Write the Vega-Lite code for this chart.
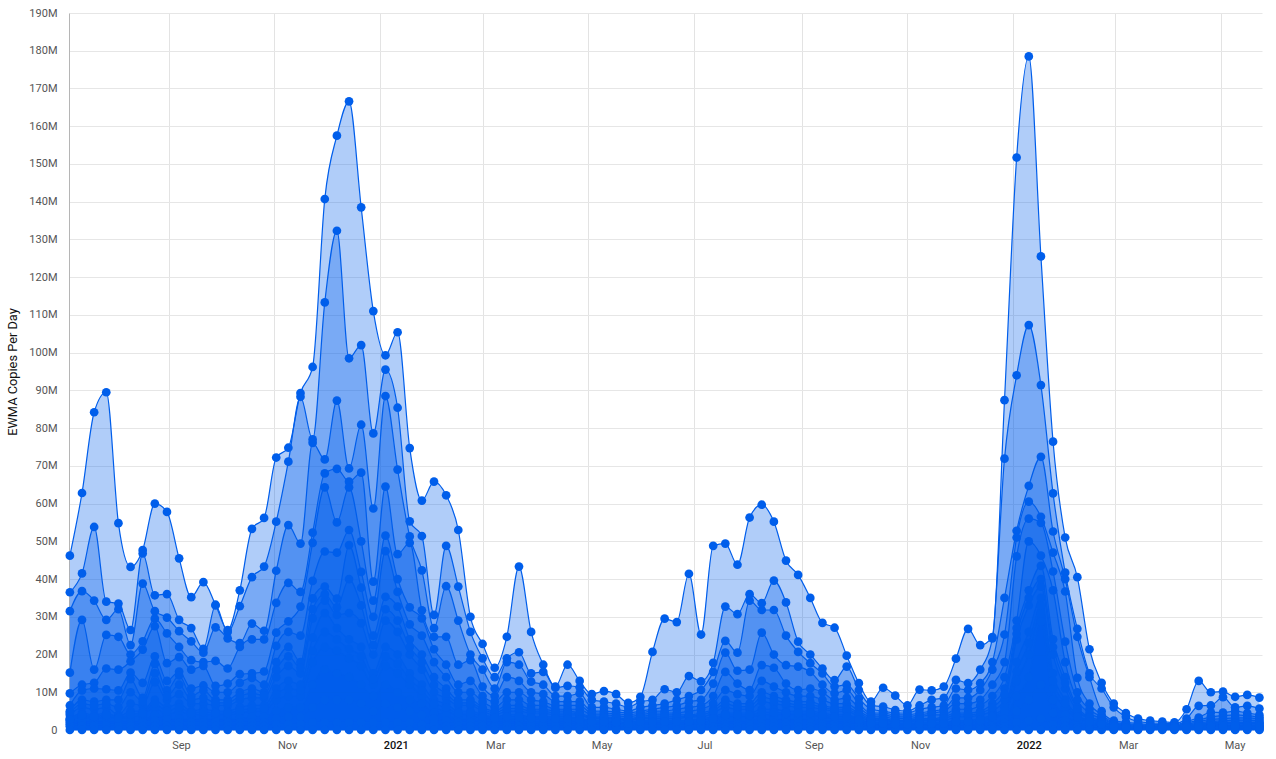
{"$schema":"https://vega.github.io/schema/vega-lite/v6.json","width":1193,"height":717,"autosize":{"type":"none"},"padding":{"left":69,"top":13,"right":14,"bottom":29},"background":"white","config":{"view":{"stroke":null},"font":"Roboto"},
"data":{"values":[
{"d":"2020-07-06","s1":46.2,"s2":36.5,"s3":31.5,"s4":15.2,"s5":9.7,"s6":6.5,"s7":5,"s8":4,"s9":3,"s10":2.5,"s11":2,"s12":1.5,"s13":1,"s14":0,"s15":4.5,"s16":2.8},
{"d":"2020-07-13","s1":62.8,"s2":41.5,"s3":36.8,"s4":29.2,"s5":12,"s6":10.5,"s7":8,"s8":6,"s9":4.5,"s10":3.5,"s11":2.5,"s12":1.5,"s13":1,"s14":0,"s15":7,"s16":4},
{"d":"2020-07-20","s1":84.2,"s2":53.8,"s3":34.3,"s4":16,"s5":12.5,"s6":11,"s7":7.5,"s8":5.5,"s9":4,"s10":3,"s11":2.5,"s12":1.5,"s13":1,"s14":0,"s15":6.5,"s16":3.5},
{"d":"2020-07-27","s1":89.5,"s2":34,"s3":29.2,"s4":25.2,"s5":16.3,"s6":10.8,"s7":8,"s8":6,"s9":4.5,"s10":3.5,"s11":2.5,"s12":1.5,"s13":1,"s14":0,"s15":7,"s16":4},
{"d":"2020-08-03","s1":54.8,"s2":33.5,"s3":32,"s4":24.7,"s5":16,"s6":10.5,"s7":8,"s8":4,"s9":3.5,"s10":3,"s11":2.5,"s12":1.5,"s13":1,"s14":0,"s15":6,"s16":3.2},
{"d":"2020-08-10","s1":43.2,"s2":26.5,"s3":22.5,"s4":20,"s5":18.2,"s6":15.2,"s7":13.5,"s8":7,"s9":5,"s10":3.5,"s11":2.5,"s12":1.5,"s13":1,"s14":0,"s15":10,"s16":4.2},
{"d":"2020-08-17","s1":47.7,"s2":46.8,"s3":38.8,"s4":23.5,"s5":21.3,"s6":12.5,"s7":8.5,"s8":6.5,"s9":5,"s10":4,"s11":2.5,"s12":2,"s13":1,"s14":0,"s15":7.5,"s16":4.5},
{"d":"2020-08-24","s1":60,"s2":35.7,"s3":31.5,"s4":29.5,"s5":27.5,"s6":19.5,"s7":17.5,"s8":12.7,"s9":8,"s10":6,"s11":4,"s12":2.5,"s13":1,"s14":0,"s15":15,"s16":7},
{"d":"2020-08-31","s1":57.8,"s2":36,"s3":29.8,"s4":25.6,"s5":17.7,"s6":13,"s7":10.5,"s8":8,"s9":6,"s10":4,"s11":3,"s12":2,"s13":1,"s14":0,"s15":9,"s16":5},
{"d":"2020-09-07","s1":45.5,"s2":29.2,"s3":26.2,"s4":22,"s5":19.3,"s6":15.5,"s7":14.5,"s8":9.5,"s9":7,"s10":5,"s11":3,"s12":2,"s13":1,"s14":0,"s15":12,"s16":6},
{"d":"2020-09-14","s1":35.2,"s2":27,"s3":23.5,"s4":18.5,"s5":16,"s6":11,"s7":9,"s8":7,"s9":5,"s10":4,"s11":3,"s12":2,"s13":1,"s14":0,"s15":8,"s16":4.5},
{"d":"2020-09-21","s1":39.2,"s2":21.5,"s3":20.5,"s4":18,"s5":17,"s6":11.8,"s7":10.5,"s8":7,"s9":5.5,"s10":4,"s11":3,"s12":2,"s13":1,"s14":0,"s15":8.5,"s16":4.8},
{"d":"2020-09-28","s1":33.2,"s2":33,"s3":27.2,"s4":18.3,"s5":11.7,"s6":10,"s7":8,"s8":6.5,"s9":5,"s10":4,"s11":3,"s12":2,"s13":1,"s14":0,"s15":7.2,"s16":4.5},
{"d":"2020-10-05","s1":26.5,"s2":26,"s3":24.3,"s4":16.3,"s5":12.3,"s6":10,"s7":8,"s8":6.5,"s9":5,"s10":4,"s11":3,"s12":2,"s13":1,"s14":0,"s15":7.2,"s16":4.5},
{"d":"2020-10-12","s1":37,"s2":32.8,"s3":23,"s4":22,"s5":14.8,"s6":12.5,"s7":10,"s8":8,"s9":6,"s10":4.5,"s11":3,"s12":2,"s13":1,"s14":0,"s15":9,"s16":5.2},
{"d":"2020-10-19","s1":53.3,"s2":40.5,"s3":28.2,"s4":24,"s5":15,"s6":13.8,"s7":11,"s8":8.5,"s9":6.5,"s10":5,"s11":3.5,"s12":2,"s13":1,"s14":0,"s15":9.7,"s16":5.7},
{"d":"2020-10-26","s1":56.2,"s2":43.3,"s3":26.3,"s4":24,"s5":15.5,"s6":12,"s7":10,"s8":8.5,"s9":6.5,"s10":5,"s11":3.5,"s12":2,"s13":1,"s14":0,"s15":9.2,"s16":5.7},
{"d":"2020-11-02","s1":72.2,"s2":55.2,"s3":42.2,"s4":33.7,"s5":25.8,"s6":22.3,"s7":18,"s8":14,"s9":11,"s10":8,"s11":5,"s12":3,"s13":1.5,"s14":0,"s15":16,"s16":9.5},
{"d":"2020-11-09","s1":74.8,"s2":71.1,"s3":54.3,"s4":39,"s5":28.8,"s6":26,"s7":22,"s8":17,"s9":13,"s10":9,"s11":6,"s12":3.5,"s13":1.5,"s14":0,"s15":19.5,"s16":11},
{"d":"2020-11-16","s1":89.3,"s2":88.3,"s3":49.4,"s4":36.6,"s5":32.7,"s6":25,"s7":18,"s8":15,"s9":12,"s10":9,"s11":6,"s12":3.5,"s13":1.5,"s14":0,"s15":16.5,"s16":10.5},
{"d":"2020-11-23","s1":96.2,"s2":77,"s3":76.1,"s4":52.3,"s5":49.6,"s6":39.5,"s7":34.9,"s8":29.6,"s9":24.5,"s10":18,"s11":12,"s12":6,"s13":2,"s14":0,"s15":32,"s16":21},
{"d":"2020-11-30","s1":140.7,"s2":113.3,"s3":71.7,"s4":68,"s5":64.3,"s6":47.3,"s7":38,"s8":34.3,"s9":31,"s10":22,"s11":16,"s12":8,"s13":2,"s14":0,"s15":36,"s16":26},
{"d":"2020-12-07","s1":157.5,"s2":132.3,"s3":87.3,"s4":69.2,"s5":55,"s6":47,"s7":34.8,"s8":30.5,"s9":27,"s10":21,"s11":15,"s12":8,"s13":2,"s14":0,"s15":32.5,"s16":24},
{"d":"2020-12-14","s1":166.6,"s2":98.5,"s3":69.3,"s4":65.8,"s5":64.3,"s6":53,"s7":49,"s8":31,"s9":24,"s10":19,"s11":14,"s12":8,"s13":2,"s14":0,"s15":40,"s16":21.5},
{"d":"2020-12-21","s1":138.5,"s2":102,"s3":80.9,"s4":68.2,"s5":50,"s6":41.9,"s7":37.7,"s8":28.3,"s9":22,"s10":17,"s11":12,"s12":7,"s13":2,"s14":0,"s15":33,"s16":19.5},
{"d":"2020-12-28","s1":111,"s2":78.6,"s3":58.7,"s4":39.3,"s5":34.3,"s6":30,"s7":25,"s8":20,"s9":15,"s10":12,"s11":9,"s12":5,"s13":2,"s14":0,"s15":22.5,"s16":13.5},
{"d":"2021-01-04","s1":99.3,"s2":95.5,"s3":88.5,"s4":64.5,"s5":51.5,"s6":47.4,"s7":35.3,"s8":29,"s9":22,"s10":17,"s11":12,"s12":7,"s13":2,"s14":0,"s15":32,"s16":19.5},
{"d":"2021-01-11","s1":105.4,"s2":85.4,"s3":69,"s4":46.6,"s5":40,"s6":36.6,"s7":32.7,"s8":26,"s9":20,"s10":15,"s11":10,"s12":6,"s13":2,"s14":0,"s15":29,"s16":17.5},
{"d":"2021-01-18","s1":74.7,"s2":55.3,"s3":51.3,"s4":49.6,"s5":32.5,"s6":28,"s7":24,"s8":20,"s9":15,"s10":12,"s11":8,"s12":5,"s13":2,"s14":0,"s15":22,"s16":13.5},
{"d":"2021-01-25","s1":60.8,"s2":51.4,"s3":42.3,"s4":31.7,"s5":29.6,"s6":25,"s7":20,"s8":16,"s9":12,"s10":9,"s11":7,"s12":4,"s13":1.5,"s14":0,"s15":18,"s16":10.5},
{"d":"2021-02-01","s1":65.8,"s2":30.5,"s3":27,"s4":24.7,"s5":21.4,"s6":18,"s7":14,"s8":10,"s9":8,"s10":6,"s11":4.5,"s12":3,"s13":1.5,"s14":0,"s15":12,"s16":7},
{"d":"2021-02-08","s1":62.2,"s2":48.8,"s3":38.1,"s4":24.7,"s5":17.3,"s6":14,"s7":11,"s8":8.5,"s9":7,"s10":5,"s11":4,"s12":2.5,"s13":1,"s14":0,"s15":9.7,"s16":6},
{"d":"2021-02-15","s1":53,"s2":38,"s3":29,"s4":17.3,"s5":12,"s6":10,"s7":8,"s8":6.5,"s9":5,"s10":4,"s11":3,"s12":2,"s13":1,"s14":0,"s15":7.2,"s16":4.5},
{"d":"2021-02-22","s1":30,"s2":26,"s3":20,"s4":18.5,"s5":13,"s6":10,"s7":8,"s8":6.5,"s9":5,"s10":4,"s11":3,"s12":2,"s13":1,"s14":0,"s15":7.2,"s16":4.5},
{"d":"2021-03-01","s1":22.8,"s2":19,"s3":16,"s4":11.5,"s5":9,"s6":7.5,"s7":6,"s8":5,"s9":4,"s10":3,"s11":2.5,"s12":2,"s13":1,"s14":0,"s15":5.5,"s16":3.5},
{"d":"2021-03-08","s1":16.5,"s2":14,"s3":11,"s4":9,"s5":7.5,"s6":6,"s7":5,"s8":4,"s9":3.5,"s10":3,"s11":2.5,"s12":1.5,"s13":1,"s14":0,"s15":4.5,"s16":3.2},
{"d":"2021-03-15","s1":24.7,"s2":19,"s3":18,"s4":14,"s5":10,"s6":8,"s7":6.5,"s8":5,"s9":4,"s10":3,"s11":2.5,"s12":1.5,"s13":1,"s14":0,"s15":5.7,"s16":3.5},
{"d":"2021-03-22","s1":43.3,"s2":20.6,"s3":17.3,"s4":13,"s5":10,"s6":8,"s7":6.5,"s8":5,"s9":4,"s10":3,"s11":2.5,"s12":1.5,"s13":1,"s14":0,"s15":5.7,"s16":3.5},
{"d":"2021-03-29","s1":26,"s2":15,"s3":12.8,"s4":10,"s5":8,"s6":6.5,"s7":5.5,"s8":4.5,"s9":3.5,"s10":3,"s11":2,"s12":1.5,"s13":1,"s14":0,"s15":5,"s16":3.2},
{"d":"2021-04-05","s1":17.3,"s2":15.4,"s3":12,"s4":9.5,"s5":7.5,"s6":6.5,"s7":5.5,"s8":4.5,"s9":3.5,"s10":3,"s11":2,"s12":1.5,"s13":1,"s14":0,"s15":5,"s16":3.2},
{"d":"2021-04-12","s1":11.5,"s2":11.2,"s3":9,"s4":7.5,"s5":6.5,"s6":5.5,"s7":5,"s8":4,"s9":3.5,"s10":2.5,"s11":2,"s12":1.5,"s13":1,"s14":0,"s15":4.5,"s16":3},
{"d":"2021-04-19","s1":17.3,"s2":11.7,"s3":9,"s4":7.5,"s5":6.5,"s6":5.5,"s7":5,"s8":4,"s9":3.5,"s10":2.5,"s11":2,"s12":1.5,"s13":1,"s14":0,"s15":4.5,"s16":3},
{"d":"2021-04-26","s1":13,"s2":11.3,"s3":9.7,"s4":7.5,"s5":6.5,"s6":5.5,"s7":4.5,"s8":4,"s9":3,"s10":2.5,"s11":2,"s12":1.5,"s13":1,"s14":0,"s15":4.2,"s16":2.8},
{"d":"2021-05-03","s1":9.5,"s2":8,"s3":6,"s4":5,"s5":4.5,"s6":4,"s7":3.5,"s8":3,"s9":2.5,"s10":2,"s11":1.5,"s12":1.2,"s13":0.8,"s14":0,"s15":3.2,"s16":2.2},
{"d":"2021-05-10","s1":10.3,"s2":7.5,"s3":6,"s4":5,"s5":4.5,"s6":4,"s7":3.5,"s8":3,"s9":2.5,"s10":2,"s11":1.5,"s12":1.2,"s13":0.8,"s14":0,"s15":3.2,"s16":2.2},
{"d":"2021-05-17","s1":9.5,"s2":7,"s3":5.5,"s4":4.8,"s5":4.3,"s6":3.8,"s7":3.3,"s8":2.8,"s9":2.3,"s10":1.9,"s11":1.5,"s12":1.2,"s13":0.8,"s14":0,"s15":3,"s16":2.1},
{"d":"2021-05-24","s1":7.2,"s2":6,"s3":5,"s4":4.5,"s5":4,"s6":3.5,"s7":3,"s8":2.5,"s9":2,"s10":1.7,"s11":1.4,"s12":1.1,"s13":0.8,"s14":0,"s15":2.7,"s16":1.8},
{"d":"2021-05-31","s1":8.8,"s2":7.5,"s3":6,"s4":5,"s5":4.5,"s6":4,"s7":3.5,"s8":3,"s9":2.5,"s10":2,"s11":1.5,"s12":1.2,"s13":0.8,"s14":0,"s15":3.2,"s16":2.2},
{"d":"2021-06-07","s1":20.7,"s2":8,"s3":6.5,"s4":5.5,"s5":5,"s6":4.5,"s7":4,"s8":3,"s9":2.5,"s10":2,"s11":1.5,"s12":1.2,"s13":0.8,"s14":0,"s15":3.5,"s16":2.2},
{"d":"2021-06-14","s1":29.5,"s2":10.8,"s3":7,"s4":6,"s5":5,"s6":4.5,"s7":4,"s8":3,"s9":2.5,"s10":2,"s11":1.5,"s12":1.2,"s13":0.8,"s14":0,"s15":3.5,"s16":2.2},
{"d":"2021-06-21","s1":28.6,"s2":10,"s3":8,"s4":6.5,"s5":5.5,"s6":4.5,"s7":4,"s8":3,"s9":2.5,"s10":2,"s11":1.5,"s12":1.2,"s13":0.8,"s14":0,"s15":3.5,"s16":2.2},
{"d":"2021-06-28","s1":41.4,"s2":14.3,"s3":9,"s4":7.5,"s5":6,"s6":5,"s7":4,"s8":3.5,"s9":2.5,"s10":2,"s11":1.5,"s12":1.2,"s13":0.8,"s14":0,"s15":3.7,"s16":2.2},
{"d":"2021-07-05","s1":25.3,"s2":12.9,"s3":10.6,"s4":8,"s5":6.5,"s6":5.5,"s7":4.5,"s8":3.5,"s9":3,"s10":2,"s11":1.5,"s12":1.2,"s13":0.8,"s14":0,"s15":4,"s16":2.5},
{"d":"2021-07-12","s1":48.8,"s2":17.8,"s3":15.4,"s4":12.3,"s5":9,"s6":7,"s7":5.5,"s8":4.5,"s9":3.5,"s10":2.5,"s11":2,"s12":1.4,"s13":0.8,"s14":0,"s15":5,"s16":3},
{"d":"2021-07-19","s1":49.4,"s2":32.7,"s3":23.6,"s4":20.5,"s5":15.4,"s6":10.6,"s7":8,"s8":6,"s9":4.5,"s10":3.5,"s11":2.5,"s12":1.5,"s13":0.8,"s14":0,"s15":7,"s16":4},
{"d":"2021-07-26","s1":43.8,"s2":30.7,"s3":20.5,"s4":15.7,"s5":12.3,"s6":9.5,"s7":7,"s8":5.5,"s9":4.5,"s10":3.5,"s11":2.5,"s12":1.5,"s13":0.8,"s14":0,"s15":6.2,"s16":4},
{"d":"2021-08-02","s1":56.3,"s2":36,"s3":34.3,"s4":16,"s5":10.6,"s6":9,"s7":7,"s8":5.5,"s9":4.5,"s10":3.5,"s11":2.5,"s12":1.5,"s13":0.8,"s14":0,"s15":6.2,"s16":4},
{"d":"2021-08-09","s1":59.7,"s2":33.6,"s3":31.8,"s4":25.8,"s5":17.2,"s6":13,"s7":10,"s8":7.5,"s9":5.5,"s10":4,"s11":3,"s12":1.8,"s13":0.8,"s14":0,"s15":8.7,"s16":4.7},
{"d":"2021-08-16","s1":55.2,"s2":39.6,"s3":31.8,"s4":20,"s5":16.5,"s6":11.5,"s7":9,"s8":7,"s9":5.5,"s10":4,"s11":3,"s12":1.8,"s13":0.8,"s14":0,"s15":8,"s16":4.7},
{"d":"2021-08-23","s1":44.9,"s2":33.8,"s3":25,"s4":17.2,"s5":12.3,"s6":10,"s7":8,"s8":6.5,"s9":5,"s10":4,"s11":3,"s12":1.8,"s13":0.8,"s14":0,"s15":7.2,"s16":4.5},
{"d":"2021-08-30","s1":41.1,"s2":23.4,"s3":20.7,"s4":16.8,"s5":10.6,"s6":9,"s7":7.5,"s8":6,"s9":5,"s10":4,"s11":3,"s12":1.8,"s13":0.8,"s14":0,"s15":6.7,"s16":4.5},
{"d":"2021-09-06","s1":35,"s2":20,"s3":17.7,"s4":15.4,"s5":11,"s6":9,"s7":7.5,"s8":6,"s9":5,"s10":4,"s11":3,"s12":1.8,"s13":0.8,"s14":0,"s15":6.7,"s16":4.5},
{"d":"2021-09-13","s1":28.4,"s2":16.3,"s3":15,"s4":12,"s5":10,"s6":8,"s7":6.5,"s8":5.5,"s9":4.5,"s10":3.5,"s11":2.5,"s12":1.5,"s13":0.8,"s14":0,"s15":6,"s16":4},
{"d":"2021-09-20","s1":27.1,"s2":13.2,"s3":11.5,"s4":9.7,"s5":8,"s6":7,"s7":6,"s8":5,"s9":4,"s10":3,"s11":2.5,"s12":1.5,"s13":0.8,"s14":0,"s15":5.5,"s16":3.5},
{"d":"2021-09-27","s1":19.7,"s2":16.8,"s3":12,"s4":10.6,"s5":8.5,"s6":7,"s7":6,"s8":5,"s9":4,"s10":3,"s11":2.5,"s12":1.5,"s13":0.8,"s14":0,"s15":5.5,"s16":3.5},
{"d":"2021-10-04","s1":12.4,"s2":10.6,"s3":8.4,"s4":7,"s5":6,"s6":5,"s7":4.5,"s8":3.5,"s9":3,"s10":2.5,"s11":2,"s12":1.5,"s13":0.8,"s14":0,"s15":4,"s16":2.7},
{"d":"2021-10-11","s1":7.5,"s2":6.5,"s3":5.5,"s4":4.5,"s5":4,"s6":3.5,"s7":3,"s8":2.5,"s9":2,"s10":1.5,"s11":1.2,"s12":1,"s13":0.6,"s14":0,"s15":2.7,"s16":1.7},
{"d":"2021-10-18","s1":11.2,"s2":6.2,"s3":5,"s4":4.5,"s5":4,"s6":3.5,"s7":3,"s8":2.5,"s9":2,"s10":1.5,"s11":1.2,"s12":1,"s13":0.6,"s14":0,"s15":2.7,"s16":1.7},
{"d":"2021-10-25","s1":9.1,"s2":5.3,"s3":4.5,"s4":4,"s5":3.5,"s6":3,"s7":2.5,"s8":2.2,"s9":1.8,"s10":1.5,"s11":1.2,"s12":1,"s13":0.6,"s14":0,"s15":2.3,"s16":1.6},
{"d":"2021-11-01","s1":6.5,"s2":5,"s3":4.5,"s4":4,"s5":3.5,"s6":3,"s7":2.5,"s8":2.2,"s9":1.8,"s10":1.5,"s11":1.2,"s12":1,"s13":0.6,"s14":0,"s15":2.3,"s16":1.6},
{"d":"2021-11-08","s1":10.7,"s2":6.5,"s3":5.5,"s4":4.5,"s5":4,"s6":3.5,"s7":3,"s8":2.5,"s9":2,"s10":1.5,"s11":1.2,"s12":1,"s13":0.6,"s14":0,"s15":2.7,"s16":1.7},
{"d":"2021-11-15","s1":10.5,"s2":8,"s3":6,"s4":5,"s5":4.5,"s6":4,"s7":3,"s8":2.5,"s9":2,"s10":1.5,"s11":1.2,"s12":1,"s13":0.6,"s14":0,"s15":2.7,"s16":1.7},
{"d":"2021-11-22","s1":11.5,"s2":8.5,"s3":6.5,"s4":5.5,"s5":5,"s6":4,"s7":3.5,"s8":2.5,"s9":2,"s10":1.5,"s11":1.2,"s12":1,"s13":0.6,"s14":0,"s15":3,"s16":1.7},
{"d":"2021-11-29","s1":18.9,"s2":13.3,"s3":11,"s4":8.5,"s5":7,"s6":5.5,"s7":4.5,"s8":3.5,"s9":2.5,"s10":2,"s11":1.5,"s12":1,"s13":0.6,"s14":0,"s15":4,"s16":2.2},
{"d":"2021-12-06","s1":26.8,"s2":12.4,"s3":10.6,"s4":8.5,"s5":7,"s6":5.5,"s7":4.5,"s8":3.5,"s9":2.5,"s10":2,"s11":1.5,"s12":1,"s13":0.6,"s14":0,"s15":4,"s16":2.2},
{"d":"2021-12-13","s1":22.5,"s2":16,"s3":12.4,"s4":10.6,"s5":8,"s6":6.5,"s7":5,"s8":4,"s9":3,"s10":2.2,"s11":1.6,"s12":1,"s13":0.6,"s14":0,"s15":4.5,"s16":2.6},
{"d":"2021-12-20","s1":24.6,"s2":24.3,"s3":18,"s4":16,"s5":12,"s6":9,"s7":7,"s8":5,"s9":4,"s10":3,"s11":2,"s12":1.2,"s13":0.6,"s14":0,"s15":6,"s16":3.5},
{"d":"2021-12-27","s1":87.4,"s2":71.9,"s3":35,"s4":25.3,"s5":18,"s6":14,"s7":11,"s8":8,"s9":6,"s10":4.5,"s11":3,"s12":1.8,"s13":0.8,"s14":0,"s15":9.5,"s16":5.2},
{"d":"2022-01-03","s1":151.7,"s2":94,"s3":52.8,"s4":51,"s5":46,"s6":29,"s7":27,"s8":24,"s9":18,"s10":13,"s11":9,"s12":5,"s13":2,"s14":0,"s15":25.5,"s16":15.5},
{"d":"2022-01-10","s1":178.5,"s2":107.3,"s3":64.7,"s4":60.5,"s5":56,"s6":50,"s7":37,"s8":33,"s9":26,"s10":20,"s11":14,"s12":8,"s13":2.5,"s14":0,"s15":35,"s16":23},
{"d":"2022-01-17","s1":125.5,"s2":91.4,"s3":72.4,"s4":56.5,"s5":54.9,"s6":46.2,"s7":43.5,"s8":38,"s9":35,"s10":31,"s11":28.7,"s12":12,"s13":3,"s14":0,"s15":40,"s16":33},
{"d":"2022-01-24","s1":76.4,"s2":62.7,"s3":52.6,"s4":47,"s5":42,"s6":37,"s7":24,"s8":20,"s9":15,"s10":11,"s11":8,"s12":4.5,"s13":1.5,"s14":0,"s15":22,"s16":13},
{"d":"2022-01-31","s1":51,"s2":41.7,"s3":40,"s4":36.7,"s5":23.4,"s6":18,"s7":14,"s8":11,"s9":8,"s10":6,"s11":4,"s12":2.5,"s13":1,"s14":0,"s15":12.5,"s16":7},
{"d":"2022-02-07","s1":40.5,"s2":26.8,"s3":24.7,"s4":13.8,"s5":10,"s6":8,"s7":6,"s8":5,"s9":4,"s10":3,"s11":2,"s12":1.2,"s13":0.6,"s14":0,"s15":5.5,"s16":3.5},
{"d":"2022-02-14","s1":21.4,"s2":15,"s3":14,"s4":7,"s5":5.5,"s6":4.5,"s7":3.5,"s8":3,"s9":2.5,"s10":2,"s11":1.5,"s12":1,"s13":0.5,"s14":0,"s15":3.2,"s16":2.2},
{"d":"2022-02-21","s1":12.5,"s2":11,"s3":5,"s4":4,"s5":3.5,"s6":3,"s7":2.5,"s8":2,"s9":1.7,"s10":1.4,"s11":1.1,"s12":0.8,"s13":0.4,"s14":0,"s15":2.2,"s16":1.5},
{"d":"2022-02-28","s1":7,"s2":6,"s3":2.5,"s4":2,"s5":1.8,"s6":1.6,"s7":1.4,"s8":1.2,"s9":1,"s10":0.8,"s11":0.6,"s12":0.4,"s13":0.2,"s14":0,"s15":1.3,"s16":0.9},
{"d":"2022-03-07","s1":4.5,"s2":3.5,"s3":2,"s4":1.7,"s5":1.5,"s6":1.3,"s7":1.1,"s8":0.9,"s9":0.8,"s10":0.6,"s11":0.5,"s12":0.3,"s13":0.2,"s14":0,"s15":1,"s16":0.7},
{"d":"2022-03-14","s1":3,"s2":2.2,"s3":1.7,"s4":1.4,"s5":1.2,"s6":1,"s7":0.9,"s8":0.8,"s9":0.6,"s10":0.5,"s11":0.4,"s12":0.3,"s13":0.2,"s14":0,"s15":0.85,"s16":0.55},
{"d":"2022-03-21","s1":2.5,"s2":1.9,"s3":1.5,"s4":1.3,"s5":1.1,"s6":1,"s7":0.8,"s8":0.7,"s9":0.6,"s10":0.5,"s11":0.4,"s12":0.3,"s13":0.2,"s14":0,"s15":0.75,"s16":0.55},
{"d":"2022-03-28","s1":2.2,"s2":1.8,"s3":1.4,"s4":1.2,"s5":1,"s6":0.9,"s7":0.8,"s8":0.7,"s9":0.6,"s10":0.5,"s11":0.4,"s12":0.3,"s13":0.2,"s14":0,"s15":0.75,"s16":0.55},
{"d":"2022-04-04","s1":2,"s2":1.7,"s3":1.4,"s4":1.2,"s5":1,"s6":0.9,"s7":0.8,"s8":0.7,"s9":0.6,"s10":0.5,"s11":0.4,"s12":0.3,"s13":0.2,"s14":0,"s15":0.75,"s16":0.55},
{"d":"2022-04-11","s1":5.5,"s2":3,"s3":2.2,"s4":1.8,"s5":1.5,"s6":1.3,"s7":1.1,"s8":0.9,"s9":0.8,"s10":0.6,"s11":0.5,"s12":0.3,"s13":0.2,"s14":0,"s15":1,"s16":0.7},
{"d":"2022-04-18","s1":13,"s2":6.4,"s3":3.3,"s4":2.6,"s5":2.2,"s6":1.8,"s7":1.5,"s8":1.2,"s9":1,"s10":0.8,"s11":0.6,"s12":0.4,"s13":0.2,"s14":0,"s15":1.3,"s16":0.9},
{"d":"2022-04-25","s1":10,"s2":6.5,"s3":4.7,"s4":3.5,"s5":2.8,"s6":2.3,"s7":1.9,"s8":1.5,"s9":1.2,"s10":0.9,"s11":0.7,"s12":0.4,"s13":0.2,"s14":0,"s15":1.7,"s16":1},
{"d":"2022-05-02","s1":10.2,"s2":8.7,"s3":4.6,"s4":3.8,"s5":3,"s6":2.4,"s7":2,"s8":1.6,"s9":1.2,"s10":0.9,"s11":0.7,"s12":0.4,"s13":0.2,"s14":0,"s15":1.8,"s16":1},
{"d":"2022-05-09","s1":8.8,"s2":6,"s3":5,"s4":4,"s5":3.2,"s6":2.6,"s7":2,"s8":1.6,"s9":1.2,"s10":0.9,"s11":0.7,"s12":0.4,"s13":0.2,"s14":0,"s15":1.8,"s16":1},
{"d":"2022-05-16","s1":9.3,"s2":6.4,"s3":4.5,"s4":3.8,"s5":3.2,"s6":2.6,"s7":2,"s8":1.6,"s9":1.2,"s10":0.9,"s11":0.7,"s12":0.4,"s13":0.2,"s14":0,"s15":1.8,"s16":1},
{"d":"2022-05-23","s1":8.6,"s2":5.7,"s3":4,"s4":3.4,"s5":2.9,"s6":2.4,"s7":2,"s8":1.6,"s9":1.2,"s10":0.9,"s11":0.7,"s12":0.4,"s13":0.2,"s14":0,"s15":1.8,"s16":1}
]},
"transform":[{"fold":["s1","s2","s3","s4","s5","s6","s7","s8","s9","s10","s11","s12","s13","s14","s15","s16"],"as":["series","value"]}],
"mark":{"type":"area","interpolate":"monotone","color":"#005eeb","fillOpacity":0.31,"clip":false,"line":{"color":"#005eeb","strokeWidth":1.2},"point":{"color":"#005eeb","filled":true,"size":76,"opacity":1}},
"encoding":{
"x":{"field":"d","type":"temporal","scale":{"domain":["2020-07-05T12:00:00","2022-05-24T12:00:00"]},"title":null,"axis":{"tickCount":{"interval":"month","step":2},"labelExpr":"month(datum.value)==0?timeFormat(datum.value,'%Y'):timeFormat(datum.value,'%b')","labelAlign":"left","labelOffset":3,"labelPadding":9,"labelFontSize":11,"labelFont":"Roboto","labelColor":{"condition":{"test":"month(datum.value)==0","value":"#111111"},"value":"#555555"},"labelFontWeight":{"condition":{"test":"month(datum.value)==0","value":500},"value":"normal"},"tickSize":0,"domain":false,"grid":true,"gridColor":"#e3e3e3","gridWidth":1,"labelFlush":false,"labelOverlap":false}},
"y":{"field":"value","type":"quantitative","stack":null,"scale":{"domain":[0,190],"nice":false},"title":"EWMA Copies Per Day","axis":{"values":[0,10,20,30,40,50,60,70,80,90,100,110,120,130,140,150,160,170,180,190],"labelExpr":"datum.value==0?'0':datum.value+'M'","labelFontSize":11,"labelFont":"Roboto","labelColor":"#555555","labelPadding":12,"tickSize":0,"domainColor":"#b5b5b5","gridColor":"#e6e6e6","gridWidth":1,"titleFont":"Roboto","titleFontSize":12.8,"titleFontWeight":"normal","titleColor":"#111111","titleX":-50}},
"detail":{"field":"series"}
}}
